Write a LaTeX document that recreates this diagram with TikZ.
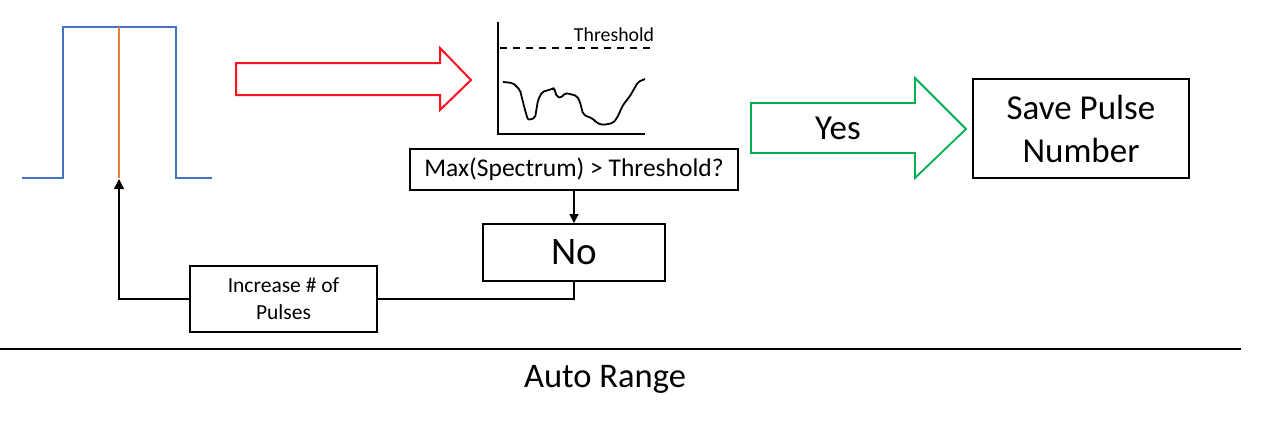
\documentclass[tikz,border=0pt]{standalone}
\usepackage{fontspec}
\setmainfont{Carlito}
\usetikzlibrary{arrows.meta}
\definecolor{pulseblue}{HTML}{4472C4}
\definecolor{pulseorange}{HTML}{ED7D31}
\definecolor{arrred}{HTML}{FF1020}
\definecolor{arrgreen}{HTML}{00B050}
\tikzset{
  box/.style={draw=black, line width=1.8pt, inner sep=0pt, align=center, fill=white},
  conn/.style={draw=black, line width=1.3pt},
  fz/.style n args={2}{font=\fontsize{#1}{#2}\selectfont},
}
\begin{document}
\begin{tikzpicture}[x=1pt,y=-1pt]
\useasboundingbox (0,0) rectangle (1266,424);
% pulse
\draw[pulseblue, line width=2.4pt, line join=miter] (22,178) -- (63,178) -- (63,27) -- (176,27) -- (176,178) -- (212,178);
\draw[pulseorange, line width=2.2pt] (119,27) -- (119,178);
\coordinate (pulsebot) at (119,179);
% red arrow
\draw[arrred, line width=2pt, line join=miter] (236,63) -- (440,63) -- (440,48) -- (471,80) -- (440,110) -- (440,95) -- (236,95) -- cycle;
% spectrum graph
\draw[black, line width=2pt] (498,22) -- (498,134) -- (645,134);
\draw[black, line width=1.8pt, dash pattern=on 7pt off 6pt] (500,48) -- (655,48);
\node[fz={19.8}{23}, anchor=base] (thr) at (614,41) {Threshold};
\draw[black, line width=1.8pt, line join=round, rounded corners=2pt]
 (503,82) -- (513,83) -- (520,90) -- (525,110) -- (528,120) -- (535,118) -- (538,100) -- (542,92) -- (552,89) -- (554,88) -- (557,97) -- (561,98) -- (565,93) -- (570,94) -- (577,96) -- (580,102) -- (583,114) -- (588,117) -- (592,118) -- (597,123) -- (603,125) -- (613,123) -- (617,118) -- (623,105) -- (630,96) -- (638,82) -- (645,79);
% boxes
\node[box, fz={25.5}{30}, minimum width=328pt, minimum height=41pt] (max) at (574,169.5) {Max(Spectrum) > Threshold?};
\node[box, fz={39}{42}, minimum width=182pt, minimum height=57pt] (no) at (574,252.5) {No};
\node[box, fz={21.5}{27}, minimum width=187pt, minimum height=66pt] (inc) at (283.5,299) {Increase \# of\\Pulses};
\node[box, fz={35}{43}, minimum width=216pt, minimum height=99pt] (save) at (1081,128.5) {Save Pulse\\Number};
% green arrow
\draw[arrgreen, line width=1.8pt, line join=miter] (751,103) -- (915,103) -- (915,78) -- (966,129) -- (915,178) -- (915,153) -- (751,153) -- cycle;
\node[fz={35}{38}] (yes) at (838,128) {Yes};
% connectors
\draw[conn, -{Triangle[width=9pt,length=9pt]}] (max.south) -- (no.north);
\draw[conn] (no.south) |- (inc.east);
\draw[conn, -{Triangle[width=10pt,length=10pt]}] (inc.west) -| (pulsebot);
% bottom rule and title
\draw[black, line width=2pt] (0,349) -- (1241,349);
\node[fz={34.5}{38}] (title) at (605,379) {Auto Range};
\end{tikzpicture}
\end{document}
